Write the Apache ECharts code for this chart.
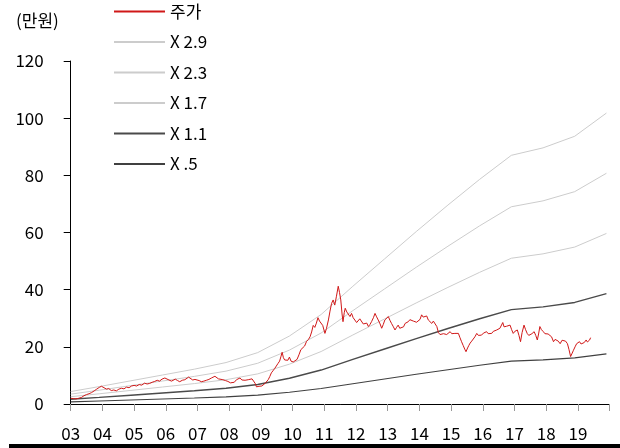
<!DOCTYPE html>
<html><head><meta charset="utf-8">
<script src="https://cdn.jsdelivr.net/npm/echarts@6/dist/echarts.min.js"></script>
<style>html,body{margin:0;padding:0;background:#fff}#c{width:620px;height:448px}</style>
</head><body><div id="c"></div>
<script>
// Band node years (x positions of the PBR-band kinks)
const bandYears = [2003.0,2003.9,2004.9,2005.9,2006.9,2007.9,2008.9,2009.9,2010.9,2011.9,2012.9,2013.9,2014.9,2015.9,2016.9,2017.9,2018.9,2019.9];
const band29 = [4.35,6.09,8.12,10.15,12.18,14.5,17.98,23.78,31.32,41.18,50.75,60.32,69.6,78.59,87.0,89.61,93.67,101.79];
const band23 = [3.45,4.83,6.44,8.05,9.66,11.5,14.26,18.86,24.84,32.66,40.25,47.84,55.2,62.33,69.0,71.07,74.29,80.73];
const band17 = [2.55,3.57,4.76,5.95,7.14,8.5,10.54,13.94,18.36,24.14,29.75,35.36,40.8,46.07,51.0,52.53,54.91,59.67];
const band11 = [1.65,2.31,3.08,3.85,4.62,5.5,6.82,9.02,11.88,15.62,19.25,22.88,26.4,29.81,33.0,33.99,35.53,38.61];
const band05 = [0.75,1.05,1.4,1.75,2.1,2.5,3.1,4.1,5.4,7.1,8.75,10.4,12.0,13.55,15.0,15.45,16.15,17.55];

// Share price (만원)
const priceYears = [2003.00,2003.08,2003.16,2003.25,2003.34,2003.42,2003.50,2003.58,2003.66,2003.74,2003.82,2003.90,2003.97,2004.05,2004.13,2004.20,2004.28,2004.36,2004.44,2004.52,2004.60,2004.68,2004.76,2004.84,2004.92,2005.00,2005.08,2005.16,2005.24,2005.33,2005.41,2005.49,2005.57,2005.65,2005.73,2005.80,2005.88,2005.97,2006.03,2006.10,2006.18,2006.24,2006.30,2006.37,2006.44,2006.52,2006.60,2006.66,2006.72,2006.78,2006.85,2006.92,2006.98,2007.05,2007.12,2007.20,2007.28,2007.36,2007.44,2007.50,2007.55,2007.60,2007.66,2007.72,2007.80,2007.88,2007.96,2008.04,2008.10,2008.16,2008.23,2008.28,2008.34,2008.40,2008.45,2008.50,2008.55,2008.60,2008.66,2008.72,2008.77,2008.82,2008.86,2008.90,2008.94,2008.98,2009.03,2009.08,2009.13,2009.18,2009.23,2009.28,2009.33,2009.38,2009.44,2009.49,2009.54,2009.59,2009.63,2009.67,2009.71,2009.75,2009.80,2009.85,2009.90,2009.95,2010.02,2010.08,2010.14,2010.20,2010.26,2010.32,2010.38,2010.44,2010.50,2010.55,2010.60,2010.65,2010.70,2010.75,2010.80,2010.85,2010.90,2010.95,2011.02,2011.07,2011.13,2011.18,2011.23,2011.28,2011.33,2011.38,2011.44,2011.48,2011.52,2011.56,2011.59,2011.63,2011.66,2011.71,2011.76,2011.81,2011.86,2011.91,2011.97,2012.02,2012.07,2012.12,2012.18,2012.23,2012.28,2012.34,2012.39,2012.44,2012.49,2012.55,2012.60,2012.65,2012.70,2012.76,2012.81,2012.86,2012.91,2012.97,2013.02,2013.07,2013.12,2013.18,2013.23,2013.28,2013.33,2013.38,2013.44,2013.50,2013.55,2013.60,2013.65,2013.70,2013.76,2013.81,2013.86,2013.91,2013.96,2014.02,2014.07,2014.12,2014.18,2014.23,2014.28,2014.34,2014.39,2014.44,2014.49,2014.55,2014.60,2014.65,2014.70,2014.76,2014.81,2014.86,2014.92,2014.97,2015.02,2015.07,2015.12,2015.18,2015.23,2015.28,2015.33,2015.38,2015.43,2015.47,2015.52,2015.56,2015.60,2015.65,2015.70,2015.75,2015.81,2015.86,2015.91,2015.96,2016.02,2016.07,2016.12,2016.17,2016.23,2016.28,2016.33,2016.39,2016.44,2016.49,2016.54,2016.59,2016.63,2016.67,2016.70,2016.75,2016.81,2016.86,2016.91,2016.96,2017.02,2017.09,2017.14,2017.19,2017.24,2017.30,2017.35,2017.40,2017.45,2017.49,2017.55,2017.62,2017.67,2017.72,2017.76,2017.80,2017.85,2017.91,2017.96,2018.01,2018.06,2018.12,2018.17,2018.23,2018.28,2018.33,2018.38,2018.44,2018.50,2018.56,2018.61,2018.67,2018.72,2018.77,2018.82,2018.86,2018.91,2018.96,2019.01,2019.05,2019.10,2019.15,2019.20,2019.26,2019.30,2019.33,2019.37,2019.40];
const priceValues = [2.0,1.9,1.8,2.0,2.3,2.9,3.3,3.6,4.0,4.6,5.2,5.8,6.2,5.7,5.2,5.4,4.7,4.9,4.6,5.2,5.5,5.3,5.9,5.7,6.3,6.5,6.3,6.8,6.6,7.3,7.0,7.2,7.6,7.9,8.3,8.0,8.7,9.1,8.8,8.4,8.0,8.5,8.7,8.2,7.8,8.3,8.5,9.0,9.4,8.8,8.4,8.6,8.0,8.2,7.8,8.0,8.3,8.6,9.1,9.5,9.7,9.2,8.8,9.0,8.5,8.2,7.9,7.4,6.8,7.6,8.5,8.9,9.1,8.4,7.9,8.3,8.7,8.5,9.1,8.8,8.4,7.2,6.0,6.6,6.2,5.7,6.3,6.6,7.2,7.8,8.5,9.6,10.9,11.6,12.5,13.1,14.2,15.0,16.5,18.1,16.2,15.4,16.0,15.3,16.4,15.0,14.7,14.5,15.6,17.2,19.0,19.6,20.3,21.9,22.6,23.5,25.2,27.5,26.8,28.3,30.2,29.0,29.6,27.5,24.7,26.5,29.4,32.5,35.2,36.4,34.6,37.5,41.2,39.0,36.4,31.5,28.8,32.0,33.5,32.2,31.7,30.6,31.7,30.2,30.0,28.5,28.2,29.8,29.4,28.0,27.6,28.3,27.1,27.8,28.8,30.2,31.7,30.5,29.4,28.0,26.5,27.8,29.4,30.0,30.6,29.3,28.2,27.0,25.9,26.8,27.6,26.5,25.9,27.0,28.2,27.6,28.8,29.5,30.0,29.0,29.4,28.6,28.2,29.6,31.2,30.4,30.0,30.8,29.4,28.9,28.2,29.0,29.4,27.1,25.0,24.3,23.8,24.6,24.1,24.3,24.9,25.3,24.6,24.9,24.7,25.0,24.7,23.2,21.8,20.5,19.2,18.3,19.6,20.5,21.3,22.0,22.4,23.5,24.7,24.0,24.5,24.1,24.8,24.5,25.3,24.6,25.2,24.7,25.4,25.0,25.9,25.5,26.5,26.0,28.5,27.0,26.5,27.2,26.6,27.6,26.0,24.7,25.5,25.9,24.0,21.8,25.0,27.6,26.0,24.7,24.0,23.5,24.6,25.3,24.0,22.4,24.5,27.1,26.0,25.3,24.6,24.1,24.5,24.7,23.5,21.8,22.6,22.9,22.0,21.1,22.3,22.9,22.0,21.1,19.0,16.6,17.8,18.8,20.0,21.1,21.6,21.8,21.0,20.6,21.5,22.4,21.7,21.1,22.4,23.2];

const seriesNames = ['주가','X 2.9','X 2.3','X 1.7','X 1.1','X .5'];
const yTicks = [0,20,40,60,80,100,120];

const zip = (xs, ys) => xs.map((x, i) => [x, ys[i]]);
const FONT = '"Noto Sans CJK KR", "Noto Sans", sans-serif';

const chart = echarts.init(document.getElementById('c'), null, {renderer: 'canvas'});
const mk = (name, data, color, width, z) => ({
  name, type: 'line', data, symbol: 'none', showSymbol: false, z,
  lineStyle: {color, width}, itemStyle: {color}, animation: false
});
chart.setOption({
  animation: false,
  backgroundColor: '#fff',
  grid: {left: 70.7, right: 10.4, top: 61, bottom: 44, containLabel: false},
  legend: {
    orient: 'vertical', left: 113, top: 3, padding: 0,
    itemWidth: 51, itemHeight: 14, itemGap: 13.5,
    itemStyle: {opacity: 0},
    textStyle: {fontFamily: FONT, fontSize: 17, color: '#000', padding: [0,0,0,0]},
    data: seriesNames
  },
  graphic: [
    {type: 'text', left: 16, top: 12, style: {text: '(만원)', font: '17px ' + FONT, fill: '#000'}},
    {type: 'rect', shape: {x: 9, y: 444, width: 611, height: 4}, style: {fill: '#000'}}
  ],
  xAxis: {
    type: 'value', min: 2003, max: 2020, interval: 1,
    axisLine: {show: true, lineStyle: {color: '#000', width: 1}},
    axisTick: {show: true, length: 7, lineStyle: {color: '#999'}},
    splitLine: {show: false},
    axisLabel: {
      margin: 21, fontFamily: FONT, fontSize: 17, color: '#000',
      formatter: v => v >= 2020 ? '' : String(v).slice(2)
    }
  },
  yAxis: {
    type: 'value', min: yTicks[0], max: yTicks[yTicks.length - 1], interval: 20,
    axisLine: {show: true, lineStyle: {color: '#000', width: 1}},
    axisTick: {show: true, length: 7, lineStyle: {color: '#000'}},
    splitLine: {show: false},
    axisLabel: {margin: 27, fontFamily: FONT, fontSize: 17, color: '#000'}
  },
  series: [
    mk(seriesNames[0], zip(priceYears, priceValues), '#d01818', 1, 10),
    mk(seriesNames[1], zip(bandYears, band29), '#cccccc', 1, 2),
    mk(seriesNames[2], zip(bandYears, band23), '#cccccc', 1, 2),
    mk(seriesNames[3], zip(bandYears, band17), '#cccccc', 1, 2),
    mk(seriesNames[4], zip(bandYears, band11), '#4a4a4a', 1.4, 3),
    mk(seriesNames[5], zip(bandYears, band05), '#404040', 1.1, 3)
  ]
});
</script></body></html>
